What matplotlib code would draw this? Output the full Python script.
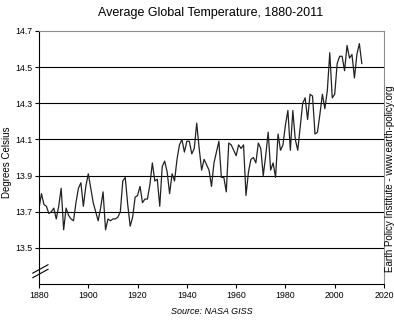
import matplotlib
matplotlib.use("Agg")
import matplotlib.pyplot as plt

plt.rcParams['font.family'] = ['Liberation Sans', 'DejaVu Sans']

# annual mean global temperature, degrees Celsius
years = list(range(1880, 2012))
temps = [
    13.72, 13.80, 13.74, 13.73, 13.69, 13.70, 13.72, 13.66, 13.73, 13.83,  # 1880s
    13.60, 13.72, 13.68, 13.66, 13.65, 13.75, 13.83, 13.86, 13.73, 13.84,  # 1890s
    13.91, 13.83, 13.75, 13.70, 13.65, 13.72, 13.81, 13.60, 13.66, 13.65,  # 1900s
    13.66, 13.66, 13.67, 13.70, 13.87, 13.89, 13.74, 13.62, 13.67, 13.78,  # 1910s
    13.79, 13.84, 13.75, 13.77, 13.77, 13.85, 13.97, 13.87, 13.88, 13.73,  # 1920s
    13.95, 13.98, 13.92, 13.80, 13.91, 13.87, 13.99, 14.07, 14.10, 14.03,  # 1930s
    14.09, 14.09, 14.02, 14.05, 14.19, 14.05, 13.93, 13.99, 13.96, 13.93,  # 1940s
    13.84, 13.97, 14.03, 14.09, 13.89, 13.89, 13.81, 14.08, 14.07, 14.04,  # 1950s
    14.01, 14.07, 14.05, 14.07, 13.79, 13.92, 13.99, 14.00, 13.97, 14.08,  # 1960s
    14.05, 13.90, 14.01, 14.14, 13.93, 13.97, 13.89, 14.13, 14.04, 14.07,  # 1970s
    14.18, 14.26, 14.04, 14.26, 14.10, 14.04, 14.17, 14.30, 14.33, 14.21,  # 1980s
    14.35, 14.34, 14.13, 14.14, 14.24, 14.35, 14.27, 14.37, 14.58, 14.33,  # 1990s
    14.35, 14.52, 14.56, 14.56, 14.48, 14.62, 14.55, 14.57, 14.44, 14.57,  # 2000s
    14.63, 14.52,                                                          # 2010s
]

yticks = [13.5, 13.7, 13.9, 14.1, 14.3, 14.5, 14.7]
xticks = list(range(1880, 2021, 20))

fig = plt.figure(figsize=(3.94, 3.29), dpi=100)
ax = fig.add_axes([39 / 394, 45 / 329, 345 / 394, 253 / 329])

for y in yticks[:-1]:
    ax.axhline(y, color='black', lw=0.8, zorder=1)

ax.plot(years, temps, color='#222222', lw=0.9, zorder=2)

ax.set_xlim(1880, 2020)
ax.set_ylim(13.3, 14.7)
ax.set_xticks(xticks)
ax.set_yticks(yticks)
ax.set_yticklabels(['%.1f' % t for t in yticks])
ax.tick_params(labelsize=6.3, length=3, width=0.8, pad=2)

for side in ('top', 'right'):
    ax.spines[side].set_color('#8c8c8c')
    ax.spines[side].set_linewidth(0.8)
for side in ('left', 'bottom'):
    ax.spines[side].set_color('black')
    ax.spines[side].set_linewidth(0.8)

# axis break marker on the y axis
for dy in (0.0, 0.018):
    ax.plot([-0.018, 0.026], [0.025 + dy, 0.058 + dy], transform=ax.transAxes,
            color='black', lw=0.8, clip_on=False, zorder=5)

ax.set_ylabel('Degrees Celsius', fontsize=7)
ax.yaxis.set_label_coords(-0.078, 0.48)

fig.text(0.535, 0.96, 'Average Global Temperature, 1880-2011',
         ha='center', va='center', fontsize=9)
fig.text(0.538, 0.052, 'Source: NASA GISS', ha='center', va='center',
         fontsize=6.5, style='italic')
fig.text(990 / 1000, 1 - 179 / 329, 'Earth Policy Institute - www.earth-policy.org',
         rotation=90, ha='center', va='center', fontsize=7)

fig.savefig('out.png', dpi=100)
